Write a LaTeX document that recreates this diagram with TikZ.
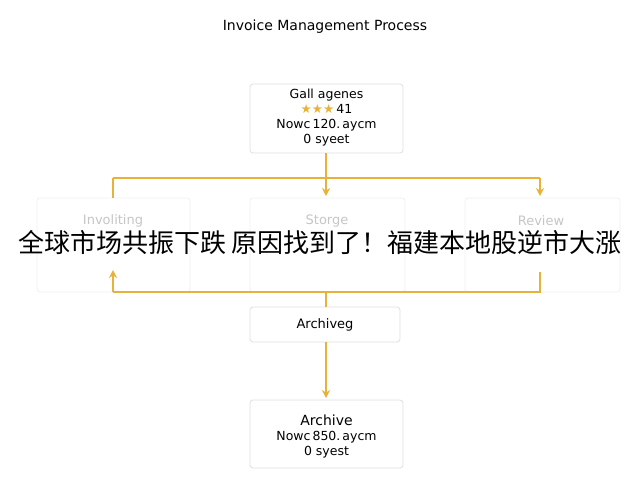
\documentclass[tikz,border=0pt]{standalone}
\usepackage{fontspec}
\usetikzlibrary{arrows.meta}
\setmainfont{DejaVu Sans}
\newfontfamily\cjk{Noto Sans CJK SC}
\definecolor{gold}{HTML}{E8B13A}
\begin{document}
\begin{tikzpicture}[x=1pt,y=-1pt,
 box/.style={draw=gray!25,rounded corners=3pt,fill=white,line width=0.8pt},
 faded/.style={draw=gray!12,rounded corners=3pt,fill=white,line width=0.8pt},
 con/.style={draw=gold,line width=1.5pt},
 arr/.style={con,-{Stealth[length=8pt,width=8pt]}}]
\useasboundingbox (0,0) rectangle (640,480);
\node[font=\fontsize{14}{16}\selectfont] (title) at (325,27) {Invoice Management Process};
\draw[box] (250,84) rectangle (403,153);
\node[font=\fontsize{12.5}{15}\selectfont,align=center,inner sep=0] (top) at (326.5,118) {Gall agenes\\{\color{gold}★★★}\,41\\Nowc\,120.\,aycm\\0 syeet};
\draw[faded] (37,198) rectangle (190,292);
\draw[faded] (250,198) rectangle (405,292);
\draw[faded] (465,198) rectangle (620,292);
\node[text=gray!45,font=\fontsize{13}{15}\selectfont] (inv) at (113,221) {Involiting};
\node[text=gray!45,font=\fontsize{13}{15}\selectfont] (sto) at (327,221) {Storge};
\node[text=gray!45,font=\fontsize{13}{15}\selectfont] (rev) at (541,221) {Review};
\coordinate (j1) at (326,178);
\coordinate (lt) at (113,178);
\coordinate (rt) at (540,178);
\draw[con] (326,153) -- (j1);
\draw[con] (lt) -- (rt);
\draw[con] (lt) -- (113,198);
\draw[arr] (j1) -- (326,196);
\draw[arr] (rt) -- (540,196);
\coordinate (lb) at (113,292);
\coordinate (rb) at (540,292);
\draw[con] (540,272) -- (rb) -- (lb);
\draw[arr] (lb) -- (113,270);
\draw[box] (250,307) rectangle (400,342);
\node[font=\fontsize{13}{15}\selectfont] (archg) at (325,324.5) {Archiveg};
\draw[con] (326,292) -- (326,307);
\draw[box] (250,400) rectangle (403,468);
\node[font=\fontsize{12.5}{15}\selectfont,align=center,inner sep=0] (arch) at (326.5,436) {\fontsize{14}{16}\selectfont Archive\\Nowc\,850.\,aycm\\0 syest};
\draw[arr] (326,342) -- (326,398);
\node[font=\cjk\fontsize{26}{30}\selectfont] (cap) at (320,243) {全球市场共振下跌 原因找到了！福建本地股逆市大涨};
\end{tikzpicture}
\end{document}
